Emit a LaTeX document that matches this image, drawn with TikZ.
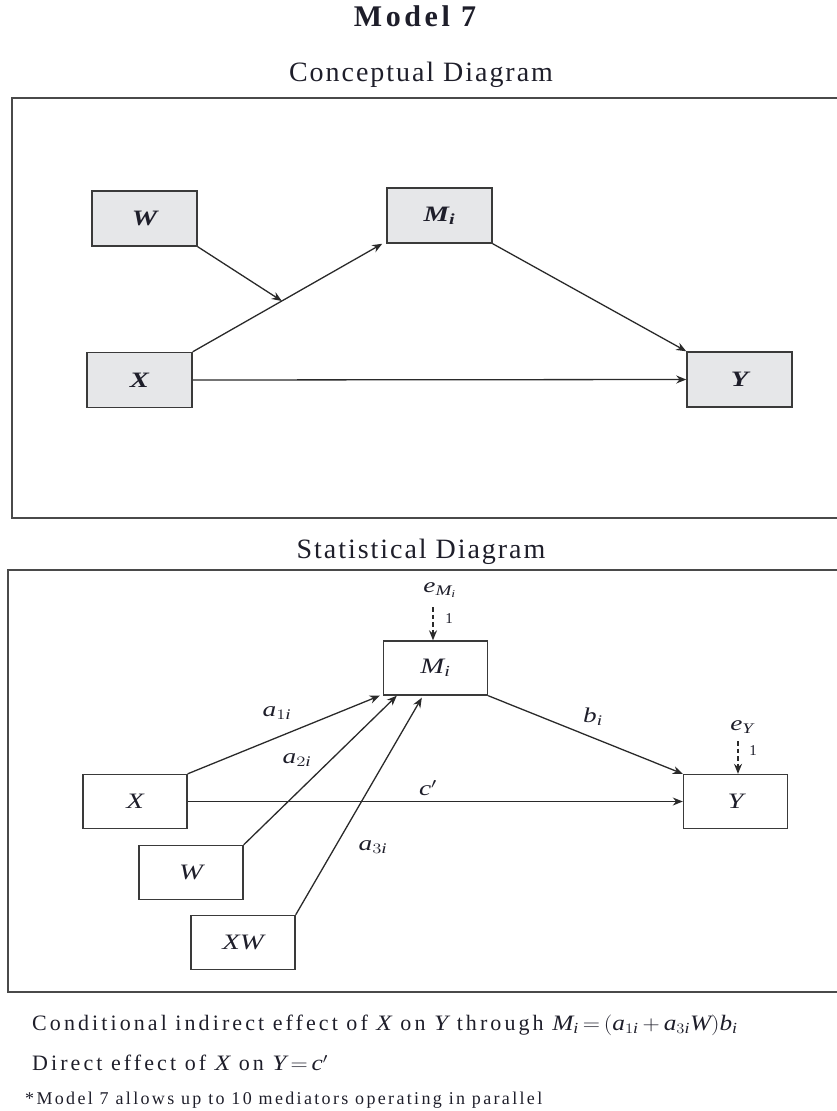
\documentclass[tikz,border=0pt]{standalone}
\usepackage{graphicx}
\usepackage{fontspec}
\setmainfont{Liberation Serif}[NFSSFamily=tnr]
\newfontfamily\titlefont{Liberation Serif}[LetterSpace=12]
\newfontfamily\headfont{Liberation Serif}[LetterSpace=7]
\newfontfamily\bodyfont{Liberation Serif}[LetterSpace=14]
\newfontfamily\notefont{Liberation Serif}[LetterSpace=13]
% Times-like italic letters in math
\DeclareSymbolFont{letters}{TU}{tnr}{m}{it}
\SetSymbolFont{letters}{bold}{TU}{tnr}{b}{it}
\usetikzlibrary{arrows.meta}
\definecolor{inkc}{HTML}{1E1E2A}
\definecolor{linec}{HTML}{3A3A3A}
\definecolor{framec}{HTML}{4A4A4A}
\definecolor{arrc}{HTML}{2A2A2A}
\definecolor{boxfill}{HTML}{E6E7E9}
% horizontally widened symbols
\newcommand{\wide}[1]{\scalebox{1.3}[1]{#1}}
\newcommand{\slwide}[1]{\scalebox{1.15}[1]{#1}}
\begin{document}
\begin{tikzpicture}[x=1pt,y=-1pt,
  every node/.style={text=inkc},
  cbox/.style={draw=linec, line width=1.5pt, fill=boxfill, minimum width=105pt,
    minimum height=55pt, inner sep=0pt, font=\fontsize{22}{26}\selectfont\boldmath},
  sbox/.style={draw=linec, line width=1.4pt, minimum width=104pt,
    minimum height=54pt, inner sep=0pt, font=\fontsize{22}{26}\selectfont},
  arr/.style={draw=arrc, line width=1.3pt, -{Stealth[length=10pt,width=8pt]}},
  darr/.style={arr, dash pattern=on 4.5pt off 3pt},
  frame/.style={draw=framec, line width=1.7pt},
  lab/.style={font=\fontsize{21}{24}\selectfont, inner sep=0pt},
  one/.style={font=\fontsize{15}{17}\selectfont, inner sep=0pt},
  heading/.style={font=\headfont\fontsize{28}{32}\selectfont, inner sep=0pt},
  body/.style={anchor=west, font=\bodyfont\fontsize{22}{26}\selectfont, inner sep=0pt}
]
\useasboundingbox (0,0) rectangle (837,1111);

% headings
\node[heading, font=\titlefont\bfseries\fontsize{30}{34}\selectfont] (title) at (415,16) {Model 7};
\node[heading] (ctitle) at (421,75) {Conceptual Diagram};
\node[heading] (stitle) at (421,552) {Statistical Diagram};

% panel frames (open on the right)
\draw[frame] (845,98) -- (12,98) -- (12,518) -- (845,518);
\draw[frame] (845,570) -- (8,570) -- (8,992) -- (845,992);

% conceptual diagram
\node[cbox] (cW) at (144.5,218.5) {\wide{$W$}};
\node[cbox] (cM) at (439.5,215.5) {\wide{$M_i$}};
\node[cbox] (cX) at (139.5,380) {\wide{$X$}};
\node[cbox] (cY) at (739.5,379.5) {\wide{$Y$}};

\draw[arr] (cX.north east) -- coordinate[pos=0.47] (cmod) ([xshift=-4pt]cM.south west);
\draw[arr] (cW.south east) -- (cmod);
\draw[arr] (cM.south east) -- (cY.north west);
\draw[arr] (cX.east) -- (cY.west);

% statistical diagram
\node[sbox] (sM) at (435.5,668) {\wide{$M_i$}};
\node[sbox] (sY) at (735.5,801.5) {\wide{$Y$}};
\node[sbox] (sX) at (135,801.5) {\wide{$X$}};
\node[sbox] (sW) at (191,872.5) {\wide{$W$}};
\node[sbox] (sXW) at (243,942.5) {\wide{$XW$}};

\draw[arr] (sX.north east) -- ([xshift=-3pt]sM.south west);
\draw[arr] (sW.north east) -- ([xshift=14pt]sM.south west);
\draw[arr] (sXW.north east) -- ([xshift=39pt,yshift=-2pt]sM.south west);
\draw[arr] (sM.south east) -- (sY.north west);
\draw[arr] (sX.east) -- (sY.west);

\node[lab] (la1) at (277,713) {\wide{$a_{1i}$}};
\node[lab] (la2) at (297,760) {\wide{$a_{2i}$}};
\node[lab] (la3) at (373,847) {\wide{$a_{3i}$}};
\node[lab] (lc) at (428,788) {\wide{$c'$}};
\node[lab] (lb) at (593,717) {\wide{$b_i$}};

% error terms
\node[lab] (eM) at (440,590) {\wide{$e_{M_i}$}};
\node[lab] (eY) at (742,727) {\wide{$e_Y$}};
\node[one] (oneM) at (449,619) {1};
\node[one] (oneY) at (753,751) {1};
\coordinate (eMs) at (433,607);
\coordinate (eYs) at (738,741);
\draw[darr] (eMs) -- (eMs |- sM.north);
\draw[darr] (eYs) -- (eYs |- sY.north);

% effects
\node[body] (ind) at (32,1025) {Conditional indirect effect of \slwide{$X$} on \slwide{$Y$} through \slwide{$M_i\,{=}\,(a_{1i}\,{+}\,a_{3i}W)b_i$}};
\node[body] (dir) at (32,1063) {Direct effect of \slwide{$X$} on \slwide{$Y\,{=}\,c'$}};
\node[body, font=\notefont\fontsize{18}{21}\selectfont] (note) at (25,1100) {*Model 7 allows up to 10 mediators operating in parallel};
\end{tikzpicture}
\end{document}
